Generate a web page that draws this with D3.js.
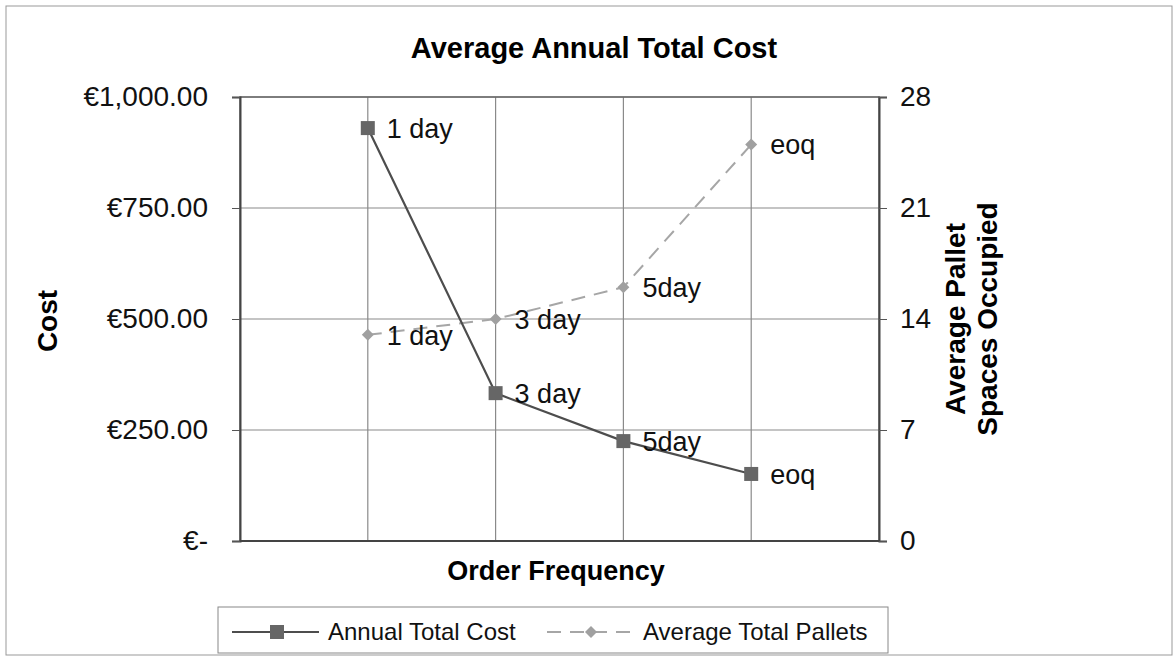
<!DOCTYPE html>
<html>
<head>
<meta charset="utf-8">
<script src="https://cdn.jsdelivr.net/npm/d3@7"></script>
<style>
  body { margin: 0; background: #fff; }
  svg { font-family: "Liberation Sans", Arial, sans-serif; }
</style>
</head>
<body>
<svg id="chart" width="1174" height="656"></svg>
<script>
// data
var categories = ["1 day", "3 day", "5day", "eoq"];
var annualTotalCost = [930, 333, 225, 151];
var averageTotalPallets = [13, 14, 16, 25];
var costTicks = [0, 250, 500, 750, 1000];
var palletTicks = [0, 7, 14, 21, 28];

var svg = d3.select("#chart"),
  margin = { top: 97, right: 295, bottom: 115, left: 240 },
  width = 1174 - margin.left - margin.right,
  height = 656 - margin.top - margin.bottom;

// outer chart border
svg.append("rect")
  .attr("x", 6).attr("y", 6)
  .attr("width", 1166).attr("height", 649)
  .attr("fill", "none")
  .attr("stroke", "#999")
  .attr("stroke-width", 1);

var g = svg.append("g")
  .attr("transform", "translate(" + margin.left + "," + margin.top + ")");

// categories sit on ticks, with an empty slot at either end
var x = d3.scaleLinear().domain([0, categories.length + 1]).range([0, width]);
var yCost = d3.scaleLinear().domain([0, 1000]).range([height, 0]);
var yPal = d3.scaleLinear().domain([0, 28]).range([height, 0]);

var euro = function(d) {
  return d === 0 ? "€-" : "€" + d3.format(",.2f")(d);
};

// square diamond (rotated square), like excel's marker
var diamond = d3.symbol().type(d3.symbolSquare).size(72);

// horizontal gridlines
g.selectAll(".hgrid")
  .data(costTicks)
  .enter().append("line")
  .attr("class", "hgrid")
  .attr("x1", 0).attr("x2", width)
  .attr("y1", function(d) { return yCost(d); })
  .attr("y2", function(d) { return yCost(d); })
  .attr("stroke", "#8a8a8a")
  .attr("stroke-width", 1.2);

// vertical gridlines at each category
g.selectAll(".vgrid")
  .data(categories)
  .enter().append("line")
  .attr("class", "vgrid")
  .attr("x1", function(d, i) { return x(i + 1); })
  .attr("x2", function(d, i) { return x(i + 1); })
  .attr("y1", 0).attr("y2", height)
  .attr("stroke", "#8a8a8a")
  .attr("stroke-width", 1.2);

// plot frame
g.append("rect")
  .attr("width", width).attr("height", height)
  .attr("fill", "none")
  .attr("stroke", "#666")
  .attr("stroke-width", 1.5);

// left axis
var leftAxis = g.append("g")
  .call(d3.axisLeft(yCost).tickValues(costTicks).tickFormat(euro).tickSize(8).tickPadding(24));
leftAxis.select(".domain").attr("stroke", "#444").attr("stroke-width", 2);
leftAxis.selectAll(".tick line").attr("stroke", "#555");
leftAxis.selectAll("text")
  .attr("font-size", 28).attr("fill", "#111")
  .attr("font-family", "'Liberation Sans', Arial, sans-serif");

// right axis
var rightAxis = g.append("g")
  .attr("transform", "translate(" + width + ",0)")
  .call(d3.axisRight(yPal).tickValues(palletTicks).tickSize(8).tickPadding(13));
rightAxis.select(".domain").attr("stroke", "#444").attr("stroke-width", 2);
rightAxis.selectAll(".tick line").attr("stroke", "#555");
rightAxis.selectAll("text")
  .attr("font-size", 28).attr("fill", "#111")
  .attr("font-family", "'Liberation Sans', Arial, sans-serif");

// bottom axis line
g.append("line")
  .attr("x1", 0).attr("x2", width)
  .attr("y1", height).attr("y2", height)
  .attr("stroke", "#444").attr("stroke-width", 2);

// pallets series (dashed, light)
var palLine = d3.line()
  .x(function(d, i) { return x(i + 1); })
  .y(function(d) { return yPal(d); });

g.append("path")
  .datum(averageTotalPallets)
  .attr("d", palLine)
  .attr("fill", "none")
  .attr("stroke", "#a6a6a6")
  .attr("stroke-width", 2)
  .attr("stroke-dasharray", "14,9");

g.selectAll(".palMark")
  .data(averageTotalPallets)
  .enter().append("path")
  .attr("class", "palMark")
  .attr("transform", function(d, i) { return "translate(" + x(i + 1) + "," + yPal(d) + ") rotate(45)"; })
  .attr("d", diamond)
  .attr("fill", "#a0a0a0");

// cost series (solid, dark)
var costLine = d3.line()
  .x(function(d, i) { return x(i + 1); })
  .y(function(d) { return yCost(d); });

g.append("path")
  .datum(annualTotalCost)
  .attr("d", costLine)
  .attr("fill", "none")
  .attr("stroke", "#4d4d4d")
  .attr("stroke-width", 2.2);

g.selectAll(".costMark")
  .data(annualTotalCost)
  .enter().append("rect")
  .attr("class", "costMark")
  .attr("x", function(d, i) { return x(i + 1) - 7; })
  .attr("y", function(d) { return yCost(d) - 7; })
  .attr("width", 14).attr("height", 14)
  .attr("fill", "#666");

// data labels
g.selectAll(".palLabel")
  .data(averageTotalPallets)
  .enter().append("text")
  .attr("class", "palLabel")
  .attr("x", function(d, i) { return x(i + 1) + 19; })
  .attr("y", function(d) { return yPal(d); })
  .attr("dy", "0.36em")
  .attr("font-size", 27)
  .attr("fill", "#111")
  .text(function(d, i) { return categories[i]; });

g.selectAll(".costLabel")
  .data(annualTotalCost)
  .enter().append("text")
  .attr("class", "costLabel")
  .attr("x", function(d, i) { return x(i + 1) + 19; })
  .attr("y", function(d) { return yCost(d); })
  .attr("dy", "0.36em")
  .attr("font-size", 27)
  .attr("fill", "#111")
  .text(function(d, i) { return categories[i]; });

// titles
svg.append("text")
  .attr("x", 594).attr("y", 58)
  .attr("text-anchor", "middle")
  .attr("font-size", 29).attr("font-weight", "bold")
  .text("Average Annual Total Cost");

svg.append("text")
  .attr("x", 556).attr("y", 580)
  .attr("text-anchor", "middle")
  .attr("font-size", 27).attr("font-weight", "bold")
  .text("Order Frequency");

svg.append("text")
  .attr("transform", "translate(57,321) rotate(-90)")
  .attr("text-anchor", "middle")
  .attr("font-size", 28).attr("font-weight", "bold")
  .text("Cost");

var rightTitle = svg.append("text")
  .attr("transform", "translate(965,319) rotate(-90)")
  .attr("text-anchor", "middle")
  .attr("font-size", 28).attr("font-weight", "bold");
rightTitle.append("tspan").attr("x", 0).attr("dy", 0).text("Average Pallet");
rightTitle.append("tspan").attr("x", 0).attr("dy", 32).text("Spaces Occupied");

// legend
var legend = svg.append("g");
legend.append("rect")
  .attr("x", 218).attr("y", 607)
  .attr("width", 670).attr("height", 46)
  .attr("fill", "#fff")
  .attr("stroke", "#888")
  .attr("stroke-width", 1);

legend.append("line")
  .attr("x1", 232).attr("x2", 319).attr("y1", 632).attr("y2", 632)
  .attr("stroke", "#4d4d4d").attr("stroke-width", 2.2);
legend.append("rect")
  .attr("x", 270).attr("y", 625).attr("width", 14).attr("height", 14)
  .attr("fill", "#666");
legend.append("text")
  .attr("x", 328).attr("y", 640)
  .attr("font-size", 24).attr("fill", "#111")
  .text("Annual Total Cost");

legend.append("line")
  .attr("x1", 547).attr("x2", 635).attr("y1", 632).attr("y2", 632)
  .attr("stroke", "#a6a6a6").attr("stroke-width", 2)
  .attr("stroke-dasharray", "14,9");
legend.append("path")
  .attr("transform", "translate(591,632) rotate(45)")
  .attr("d", diamond)
  .attr("fill", "#a0a0a0");
legend.append("text")
  .attr("x", 643).attr("y", 640)
  .attr("font-size", 24).attr("fill", "#111")
  .text("Average Total Pallets");
</script>
</body>
</html>
